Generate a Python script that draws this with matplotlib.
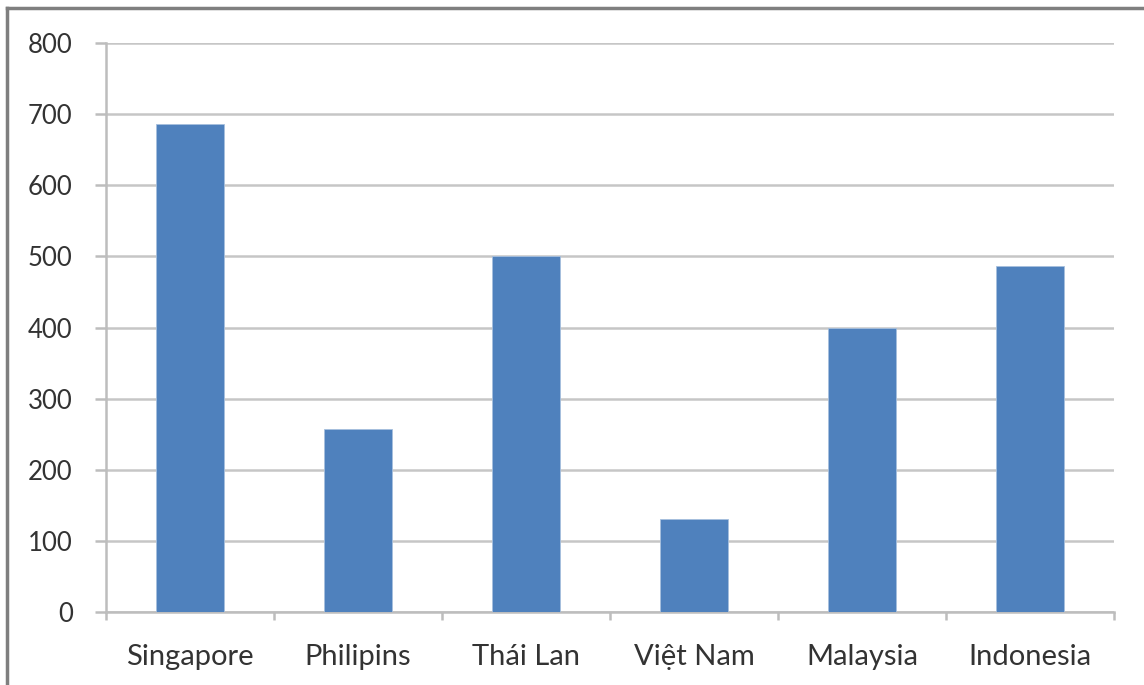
import matplotlib
matplotlib.use("Agg")
import matplotlib.pyplot as plt
from matplotlib.lines import Line2D

categories = ["Singapore", "Philipins", "Thái Lan", "Việt Nam", "Malaysia", "Indonesia"]
values = [686, 257, 500, 131, 400, 487]
yticks = [0, 100, 200, 300, 400, 500, 600, 700, 800]

plt.rcParams['font.family'] = ['Lato', 'DejaVu Sans']

fig = plt.figure(figsize=(11.44, 6.85), dpi=100)
ax = fig.add_axes([106/1144, 1-612/685, (1114-106)/1144, (612-43)/685])

x = list(range(len(categories)))
ax.bar(x, values, width=0.4, color="#4F81BD", edgecolor="#A7C0DE", linewidth=0.6, zorder=3)

ax.set_xlim(-0.5, len(categories)-0.5)
ax.set_ylim(0, 800)
ax.set_yticks(yticks)
ax.set_yticklabels([str(v) for v in yticks])
ax.yaxis.grid(True, color="#C6C6C6", linewidth=1.8, zorder=0)
ax.set_axisbelow(True)

ax.set_xticks(x)
ax.set_xticklabels(categories)
ax.set_xticks([i - 0.5 for i in range(len(categories)+1)], minor=True)
ax.tick_params(axis='x', which='major', length=0, pad=23, labelsize=21, colors="#333333")
ax.tick_params(axis='x', which='minor', length=6, width=1.8, color="#BDBDBD")
ax.tick_params(axis='y', length=8, width=1.8, color="#BDBDBD", labelsize=18.5, labelcolor="#333333", pad=16)

for s in ["top", "right"]:
    ax.spines[s].set_visible(False)
for s in ["left", "bottom"]:
    ax.spines[s].set_color("#BDBDBD")
    ax.spines[s].set_linewidth(1.8)

# outer frame (top and left only)
fig.add_artist(Line2D([7/1144, 1], [1-8/685, 1-8/685], transform=fig.transFigure, color="#7F7F7F", linewidth=2.5))
fig.add_artist(Line2D([7/1144, 7/1144], [0, 1-8/685], transform=fig.transFigure, color="#7F7F7F", linewidth=2.5))

fig.savefig("out.png", dpi=100)
